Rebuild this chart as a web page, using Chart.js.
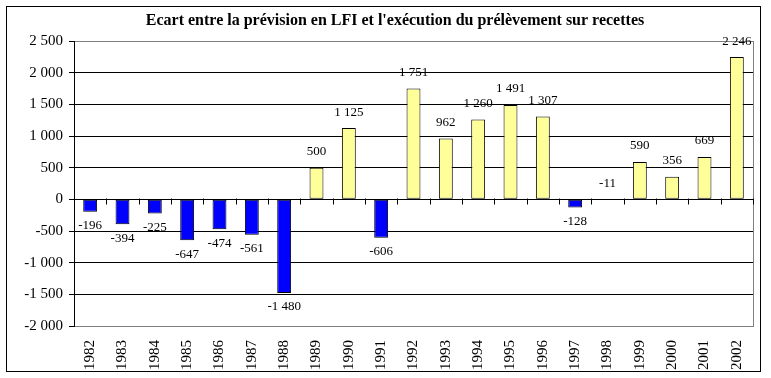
<!DOCTYPE html>
<html><head><meta charset="utf-8">
<script src="https://cdn.jsdelivr.net/npm/chart.js@4"></script>
<style>html,body{margin:0;padding:0;background:#fff}#wrap{width:771px;height:378px}</style>
</head><body><div id="wrap"><canvas id="c" width="771" height="378"></canvas></div>
<script>
const titleText = "Ecart entre la prévision en LFI et l'exécution du prélèvement sur recettes";
const years = ["1982","1983","1984","1985","1986","1987","1988","1989","1990","1991","1992","1993","1994","1995","1996","1997","1998","1999","2000","2001","2002"];
const ecarts = [-196,-394,-225,-647,-474,-561,-1480,500,1125,-606,1751,962,1260,1491,1307,-128,-11,590,356,669,2246];
const yMin = -2000, yMax = 2500, yStep = 500;

function fmt(v){
  const s = Math.abs(Math.round(v)).toString().replace(/\B(?=(\d{3})+(?!\d))/g,' ');
  return (v<0?'-':'')+s;
}
const SERIF = "'Liberation Serif','Times New Roman',serif";

const decor = {
  id:'decor',
  beforeDraw(chart){
    const c=chart.ctx; c.save(); c.fillStyle='#fff'; c.fillRect(0,0,chart.width,chart.height); c.restore();
  },
  afterDatasetsDraw(chart){
    const c=chart.ctx, a=chart.chartArea, x=chart.scales.x, y=chart.scales.y;
    c.save();
    c.strokeStyle='#808080'; c.lineWidth=1;
    c.beginPath(); c.moveTo(Math.round(a.right)+0.5,a.top); c.lineTo(Math.round(a.right)+0.5,a.bottom); c.stroke();
    const y0=Math.round(y.getPixelForValue(0))+0.5;
    c.strokeStyle='#000';
    c.beginPath(); c.moveTo(a.left,y0); c.lineTo(a.right,y0); c.stroke();
    const n=years.length, w=(a.right-a.left)/n;
    c.beginPath();
    for(let i=1;i<=n;i++){const xx=Math.round(a.left+i*w)+0.5; c.moveTo(xx,y0-1); c.lineTo(xx,y0+5);}
    c.stroke();
    c.fillStyle='#000'; c.font='13px '+SERIF; c.textAlign='center'; c.textBaseline='middle';
    const meta=chart.getDatasetMeta(0);
    meta.data.forEach((bar,i)=>{
      const v=ecarts[i];
      const h=Math.abs(bar.y-bar.base);
      let ty;
      if(v>=0 || h<3) ty=Math.min(bar.y,bar.base)-16;
      else ty=bar.y+14;
      c.fillText(fmt(v),bar.x,ty);
    });
    c.restore();
  },
  afterDraw(chart){
    const c=chart.ctx; c.save();
    c.fillStyle='#000'; c.font='bold 16px '+SERIF; c.textAlign='center'; c.textBaseline='middle';
    c.fillText(titleText,395,21);
    c.strokeStyle='#000'; c.lineWidth=1; c.strokeRect(6.5,6.5,754,365);
    c.restore();
  }
};

new Chart(document.getElementById('c'),{
  type:'bar',
  data:{labels:years,datasets:[{data:ecarts,
    backgroundColor:ecarts.map(v=>v<0?'#0000FF':'#FFFF99'),
    borderColor:'#000',borderWidth:1,borderSkipped:false,
    categoryPercentage:1,barPercentage:0.43}]},
  options:{
    responsive:false,animation:false,
    layout:{padding:{top:41,right:18,left:0,bottom:0}},
    plugins:{legend:{display:false},title:{display:false},tooltip:{enabled:false}},
    scales:{
      x:{
        grid:{display:false},
        border:{color:'#808080'},
        ticks:{color:'#000',font:{family:SERIF,size:15},minRotation:90,maxRotation:90,padding:6,autoSkip:false},
        afterFit(s){s.height=52;}
      },
      y:{
        min:yMin,max:yMax,
        grid:{color:ctx=>(ctx.tick&&(ctx.tick.value===yMax||ctx.tick.value===yMin))?'#808080':'#000',tickColor:'#000',tickLength:5},
        border:{color:'#000'},
        ticks:{stepSize:yStep,color:'#000',font:{family:SERIF,size:15},padding:6,callback:v=>fmt(v)},
        afterFit(s){s.width=74;}
      }
    }
  },
  plugins:[decor]
});
</script></body></html>
